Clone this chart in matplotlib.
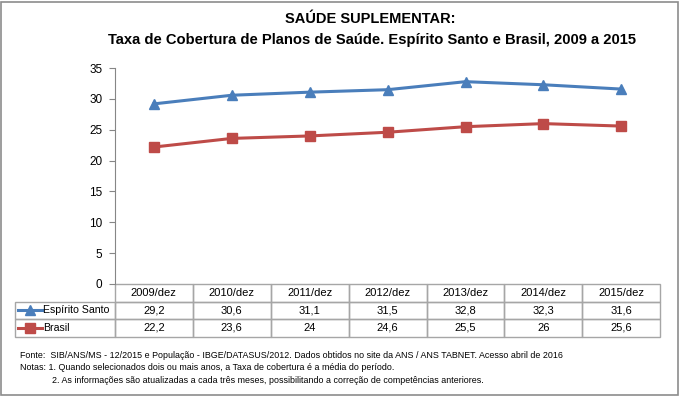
import numpy as np
import matplotlib
matplotlib.use('Agg')
import matplotlib.pyplot as plt
from matplotlib.lines import Line2D
from matplotlib.patches import Rectangle

plt.rcParams['font.family'] = ['Liberation Sans', 'DejaVu Sans']

# Dados
anos = ['2009/dez', '2010/dez', '2011/dez', '2012/dez', '2013/dez', '2014/dez', '2015/dez']
espirito_santo = [29.2, 30.6, 31.1, 31.5, 32.8, 32.3, 31.6]
brasil = [22.2, 23.6, 24.0, 24.6, 25.5, 26.0, 25.6]
series = ['Espírito Santo', 'Brasil']
cores = ['#4A7EBB', '#BE4B48']
marcadores = ['^', 's']

def fmt(v):
    s = ('%.1f' % v).replace('.', ',')
    return s[:-2] if s.endswith(',0') else s

fig = plt.figure(figsize=(6.8, 3.96), dpi=100)
fig.patches.append(Rectangle((0.002, 0.003), 0.995, 0.993, transform=fig.transFigure,
                             fill=False, edgecolor='#8c8c8c', linewidth=1.2))

fig.text(0.545, 0.953, 'SAÚDE SUPLEMENTAR:', ha='center', va='center',
         fontsize=10.5, fontweight='bold')
fig.text(0.547, 0.898, 'Taxa de Cobertura de Planos de Saúde. Espírito Santo e Brasil, 2009 a 2015',
         ha='center', va='center', fontsize=10.6, fontweight='bold')

ax = fig.add_axes([0.169, 0.283, 0.802, 0.545])
x = np.arange(len(anos))
for vals, cor, mk in zip([espirito_santo, brasil], cores, marcadores):
    ax.plot(x, vals, color=cor, linewidth=2.2, marker=mk, markersize=7)

ax.set_xlim(-0.5, len(anos) - 0.5)
ax.set_ylim(0, 35)
ax.set_yticks(range(0, 36, 5))
ax.set_xticks([])
for lado in ['top', 'right', 'bottom']:
    ax.spines[lado].set_visible(False)
ax.spines['left'].set_color('#868686')
ax.tick_params(axis='y', colors='#868686', labelcolor='black', labelsize=8.5, length=4, pad=5)

# Tabela de dados (x em unidades de dados, y em fração do eixo)
xt = ax.get_xaxis_transform()
celulas = [[fmt(v) for v in espirito_santo], [fmt(v) for v in brasil]]
larg_rot = 1.28        # largura da coluna de rótulos
alt_lin = 0.245 / 3    # altura de cada linha
borda = '#a6a6a6'

def celula(x0, larg, linha):
    y0 = -alt_lin * (linha + 1)
    ax.add_patch(Rectangle((x0, y0), larg, alt_lin, transform=xt, fill=False,
                           edgecolor=borda, linewidth=1.0, clip_on=False))
    return y0 + alt_lin / 2

for j, ano in enumerate(anos):
    yc = celula(j - 0.5, 1.0, 0)
    ax.text(j, yc, ano, transform=xt, ha='center', va='center', fontsize=8)
for i, (nome, cor, mk, linha) in enumerate(zip(series, cores, marcadores, celulas)):
    yc = celula(-0.5 - larg_rot, larg_rot, i + 1)
    ax.add_line(Line2D([-1.74, -1.43], [yc, yc], transform=xt,
                       color=cor, linewidth=2.2, clip_on=False))
    ax.add_line(Line2D([-1.585], [yc], transform=xt,
                       color=cor, marker=mk, markersize=6.5, clip_on=False))
    ax.text(-1.42, yc, nome, transform=xt, ha='left', va='center', fontsize=7.6)
    for j, val in enumerate(linha):
        celula(j - 0.5, 1.0, i + 1)
        ax.text(j, yc, val, transform=xt, ha='center', va='center', fontsize=8)

# Notas
fig.text(0.03, 0.103, 'Fonte:  SIB/ANS/MS - 12/2015 e População - IBGE/DATASUS/2012. Dados obtidos no site da ANS / ANS TABNET. Acesso abril de 2016',
         fontsize=6.4, va='center')
fig.text(0.03, 0.071, 'Notas: 1. Quando selecionados dois ou mais anos, a Taxa de cobertura é a média do período.',
         fontsize=6.4, va='center')
fig.text(0.077, 0.040, '2. As informações são atualizadas a cada três meses, possibilitando a correção de competências anteriores.',
         fontsize=6.4, va='center')

fig.savefig('out.png', dpi=100)
